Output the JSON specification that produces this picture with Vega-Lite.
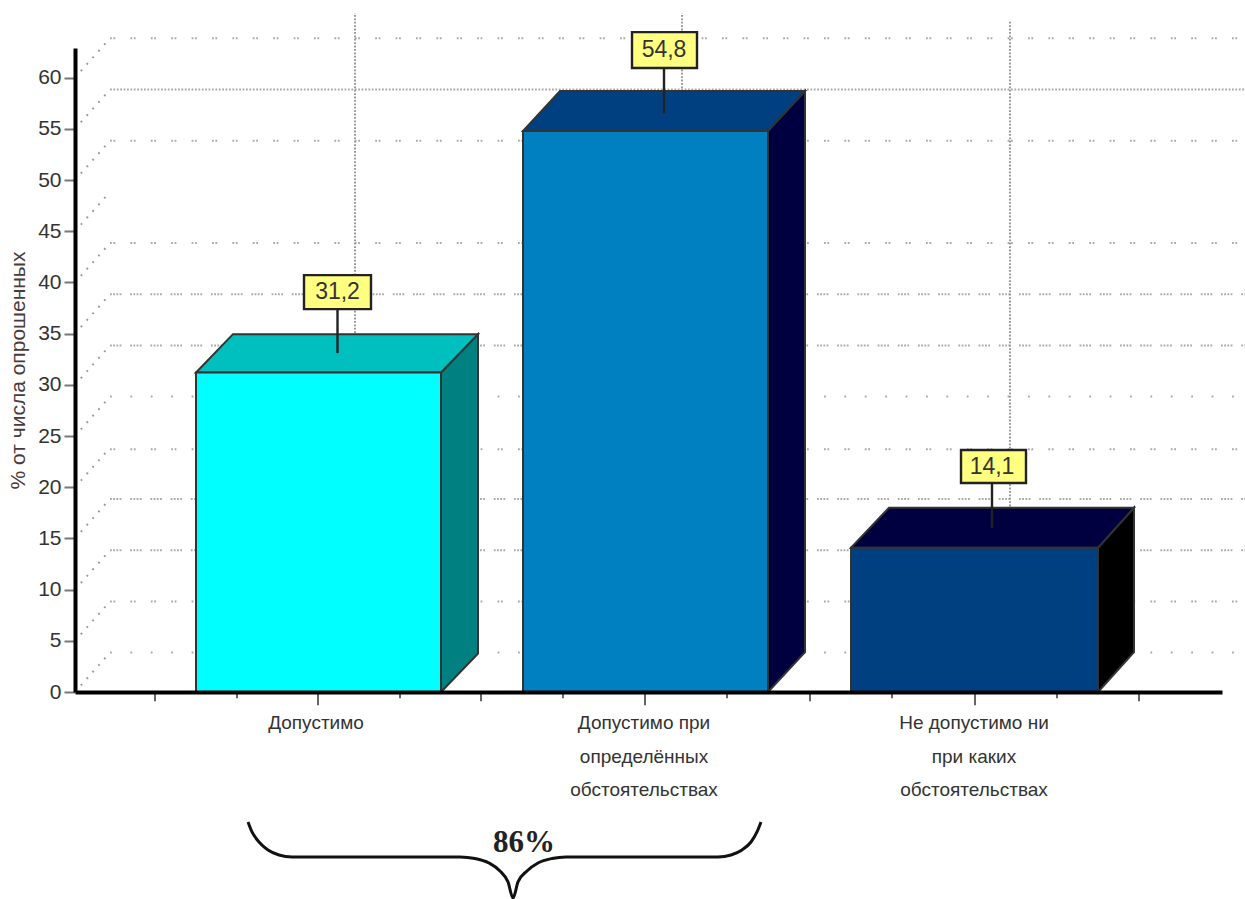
{
"$schema":"https://vega.github.io/schema/vega-lite/v6.json",
"autosize":{"type":"none"},
"width":1147,"height":644,
"padding":{"left":75,"top":48,"right":23,"bottom":207},
"background":"white",
"config":{"view":{"stroke":null}},
"datasets":{
"diag":[
{"level":0,"x":75,"y":0},{"level":0,"x":110,"y":3.85},{"level":5,"x":75,"y":5},{"level":5,"x":110,"y":8.85},{"level":10,"x":75,"y":10},{"level":10,"x":110,"y":13.85},{"level":15,"x":75,"y":15},{"level":15,"x":110,"y":18.85},{"level":20,"x":75,"y":20},{"level":20,"x":110,"y":23.85},{"level":25,"x":75,"y":25},{"level":25,"x":110,"y":28.85},{"level":30,"x":75,"y":30},{"level":30,"x":110,"y":33.85},{"level":35,"x":75,"y":35},{"level":35,"x":110,"y":38.85},{"level":40,"x":75,"y":40},{"level":40,"x":110,"y":43.85},{"level":45,"x":75,"y":45},{"level":45,"x":106,"y":48.4},{"level":50,"x":75,"y":50},{"level":50,"x":110,"y":53.85},{"level":55,"x":75,"y":55},{"level":55,"x":110,"y":58.85},{"level":60,"x":75,"y":60},{"level":60,"x":110,"y":63.85}],
"back":[
{"level":0,"kind":"sparse","x":110,"y":3.85},{"level":0,"kind":"sparse","x":1245,"y":3.85},
{"level":5,"kind":"pairs","x":110,"y":8.85},{"level":5,"kind":"pairs","x":1245,"y":8.85},
{"level":10,"kind":"dense","x":110,"y":13.85},{"level":10,"kind":"dense","x":1245,"y":13.85},
{"level":15,"kind":"dense","x":110,"y":18.85},{"level":15,"kind":"dense","x":1245,"y":18.85},
{"level":20,"kind":"pairs","x":110,"y":23.7},{"level":20,"kind":"pairs","x":1245,"y":23.7},
{"level":25,"kind":"sparse","x":110,"y":28.85},{"level":25,"kind":"sparse","x":1245,"y":28.85},
{"level":30,"kind":"dense","x":110,"y":33.85},{"level":30,"kind":"dense","x":1245,"y":33.85},
{"level":35,"kind":"dense","x":110,"y":38.85},{"level":35,"kind":"dense","x":1245,"y":38.85},
{"level":40,"kind":"pairs","x":110,"y":43.85},{"level":40,"kind":"pairs","x":1245,"y":43.85},
{"level":50,"kind":"pairs","x":110,"y":53.85},{"level":50,"kind":"pairs","x":1245,"y":53.85},
{"level":55,"kind":"solid","x":110,"y":58.85},{"level":55,"kind":"solid","x":1245,"y":58.85},
{"level":60,"kind":"pairs","x":110,"y":63.85},{"level":60,"kind":"pairs","x":1245,"y":63.85}],
"verticals":[{"x":355,"y":3.85,"y2":66.3},{"x":682,"y":3.85,"y2":66.3},{"x":1010,"y":3.85,"y2":65.6}],
"faces":[
{"surface":"a-side","x":441,"y":0,"y2":31.2},{"surface":"a-side","x":478,"y":3.75,"y2":34.95},
{"surface":"a-top","x":196,"y":31.2,"y2":31.2},{"surface":"a-top","x":233,"y":31.2,"y2":34.95},{"surface":"a-top","x":441,"y":31.2,"y2":34.95},{"surface":"a-top","x":478,"y":34.95,"y2":34.95},
{"surface":"a-front","x":196,"y":0,"y2":31.2},{"surface":"a-front","x":441,"y":0,"y2":31.2},
{"surface":"b-side","x":768,"y":0,"y2":54.8},{"surface":"b-side","x":805,"y":3.9,"y2":58.7},
{"surface":"b-top","x":523,"y":54.8,"y2":54.8},{"surface":"b-top","x":560,"y":54.8,"y2":58.7},{"surface":"b-top","x":768,"y":54.8,"y2":58.7},{"surface":"b-top","x":805,"y":58.7,"y2":58.7},
{"surface":"b-front","x":523,"y":0,"y2":54.8},{"surface":"b-front","x":768,"y":0,"y2":54.8},
{"surface":"c-side","x":1098,"y":0,"y2":14.1},{"surface":"c-side","x":1134,"y":3.9,"y2":18},
{"surface":"c-top","x":851,"y":14.1,"y2":14.1},{"surface":"c-top","x":889,"y":14.1,"y2":18},{"surface":"c-top","x":1098,"y":14.1,"y2":18},{"surface":"c-top","x":1134,"y":18,"y2":18},
{"surface":"c-front","x":851,"y":0,"y2":14.1},{"surface":"c-front","x":1098,"y":0,"y2":14.1}],
"ticks":[
{"x":155,"y":0,"y2":-0.9},{"x":237,"y":0,"y2":-0.6},{"x":318,"y":0,"y2":-1.3},{"x":400,"y":0,"y2":-0.6},{"x":481,"y":0,"y2":-0.9},{"x":563,"y":0,"y2":-0.6},{"x":645,"y":0,"y2":-1.3},{"x":727,"y":0,"y2":-0.6},{"x":810,"y":0,"y2":-0.9},{"x":892,"y":0,"y2":-0.6},{"x":975,"y":0,"y2":-1.3},{"x":1057,"y":0,"y2":-0.6},{"x":1139,"y":0,"y2":-0.9}],
"callouts":[
{"label":"31,2","x":304,"x2":371,"y":40.72,"y2":37.4,"cx":337.5,"tip":33.1,"ty":39.06},
{"label":"54,8","x":632,"x2":697,"y":64.45,"y2":60.94,"cx":664,"tip":56.54,"ty":62.7},
{"label":"14,1","x":961,"x2":1026,"y":23.63,"y2":20.41,"cx":992,"tip":16,"ty":21.97}],
"categories":[
{"text":"Допустимо","x":316,"y":-3.03},
{"text":"Допустимо при","x":644,"y":-3.03},{"text":"определённых","x":644,"y":-6.35},{"text":"обстоятельствах","x":644,"y":-9.57},
{"text":"Не допустимо ни","x":974,"y":-3.03},{"text":"при каких","x":974,"y":-6.35},{"text":"обстоятельствах","x":974,"y":-9.57}],
"brace":[
{"i":1,"x":248,"y":-12.7},{"i":2,"x":252,"y":-13.67},{"i":3,"x":259,"y":-14.65},{"i":4,"x":268,"y":-15.43},{"i":5,"x":279,"y":-15.92},{"i":6,"x":292,"y":-16.11},{"i":7,"x":460,"y":-16.11},{"i":8,"x":475,"y":-16.26},{"i":9,"x":489,"y":-16.7},{"i":10,"x":500,"y":-17.48},{"i":11,"x":508,"y":-18.55},{"i":12,"x":513,"y":-20.12},{"i":13,"x":518,"y":-18.55},{"i":14,"x":527,"y":-17.48},{"i":15,"x":538,"y":-16.7},{"i":16,"x":552,"y":-16.26},{"i":17,"x":566,"y":-16.11},{"i":18,"x":718,"y":-16.11},{"i":19,"x":731,"y":-15.92},{"i":20,"x":742,"y":-15.43},{"i":21,"x":751,"y":-14.65},{"i":22,"x":757,"y":-13.67},{"i":23,"x":761,"y":-12.7}],
"total":[{"text":"86%","x":524,"y":-14.75}]
},
"encoding":{
"x":{"field":"x","type":"quantitative","scale":{"domain":[75,1222],"nice":false,"zero":false},
"axis":{"title":null,"ticks":false,"labels":false,"grid":false,"domainWidth":4,"domainColor":"#000","zindex":1}},
"y":{"field":"y","type":"quantitative","scale":{"domain":[0,62.9],"nice":false},
"axis":{"title":"% от числа опрошенных","titleFont":"Liberation Sans","titleFontSize":21,"titleFontWeight":"normal","titleColor":"#4a3a3a","titleX":-47,
"values":[0,5,10,15,20,25,30,35,40,45,50,55,60],"grid":false,"domainWidth":4,"domainColor":"#000","tickSize":11,"tickWidth":2,"tickColor":"#777","labelFont":"Liberation Sans","labelFontSize":21,"labelColor":"#333","labelPadding":3,"zindex":1}}
},
"layer":[
{"data":{"name":"diag"},"mark":{"type":"line","stroke":"#999","strokeWidth":2,"strokeDash":[1.8,7]},"encoding":{"detail":{"field":"level"}}},
{"data":{"name":"back"},"mark":{"type":"line","stroke":"#aaa","strokeWidth":2},"encoding":{"detail":{"field":"level"},"strokeDash":{"field":"kind","legend":null,"scale":{"domain":["sparse","pairs","dense","solid"],"range":[[1.8,18.6],[1.8,1.6,1.8,15.2],[1.8,1.4,1.8,1.4,1.8,1.4,1.8,8.8],[1.8,1.6]]}}}},
{"data":{"name":"verticals"},"mark":{"type":"rule","stroke":"#999","strokeWidth":2,"strokeDash":[1.8,1.6]},"encoding":{"y2":{"field":"y2"}}},
{"data":{"name":"faces"},"mark":{"type":"area","stroke":"#333","strokeWidth":2,"opacity":1},"encoding":{"y2":{"field":"y2"},"color":{"field":"surface","legend":null,"scale":{"domain":["a-front","a-top","a-side","b-front","b-top","b-side","c-front","c-top","c-side"],"range":["#00ffff","#00bfbf","#008080","#0080c0","#004080","#000040","#004080","#000040","#000000"]}}}},
{"data":{"name":"ticks"},"mark":{"type":"rule","stroke":"#555","strokeWidth":1.8},"encoding":{"y2":{"field":"y2"}}},
{"data":{"name":"callouts"},"mark":{"type":"rule","stroke":"#222","strokeWidth":2.4},"encoding":{"x":{"field":"cx","type":"quantitative"},"y":{"field":"y2","type":"quantitative"},"y2":{"field":"tip"}}},
{"data":{"name":"callouts"},"mark":{"type":"rect","fill":"#ffff80","stroke":"#222","strokeWidth":2.4},"encoding":{"x2":{"field":"x2"},"y2":{"field":"y2"}}},
{"data":{"name":"callouts"},"mark":{"type":"text","font":"Liberation Sans","fontSize":23,"fill":"#333","baseline":"middle","align":"center"},"encoding":{"x":{"field":"cx","type":"quantitative"},"y":{"field":"ty","type":"quantitative"},"text":{"field":"label"}}},
{"data":{"name":"categories"},"mark":{"type":"text","font":"Liberation Sans","fontSize":19,"fill":"#333","baseline":"middle","align":"center"},"encoding":{"text":{"field":"text"}}},
{"data":{"name":"brace"},"mark":{"type":"line","interpolate":"monotone","stroke":"#111","strokeWidth":3},"encoding":{"order":{"field":"i"}}},
{"data":{"name":"total"},"mark":{"type":"text","font":"Liberation Serif","fontSize":31,"fontWeight":"bold","fill":"#222","baseline":"middle","align":"center"},"encoding":{"text":{"field":"text"}}}
]
}
